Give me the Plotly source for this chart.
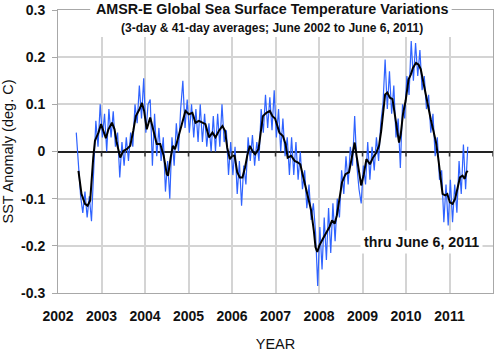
import plotly.graph_objects as go

# ---- data ----
avg41_year = [2002.47, 2002.54, 2002.62, 2002.68, 2002.74, 2002.77, 2002.81, 2002.85, 2002.93, 2002.99,
              2003.04, 2003.10, 2003.16, 2003.24, 2003.30, 2003.35, 2003.43, 2003.50, 2003.58, 2003.66,
              2003.73, 2003.79, 2003.87, 2003.93, 2003.98, 2004.04, 2004.12, 2004.20, 2004.27, 2004.35,
              2004.43, 2004.50, 2004.53, 2004.59, 2004.64, 2004.69, 2004.74, 2004.82, 2004.87, 2004.93,
              2005.01, 2005.09, 2005.16, 2005.24, 2005.32, 2005.39, 2005.47, 2005.55, 2005.62, 2005.70,
              2005.78, 2005.84, 2005.89, 2005.95, 2006.01, 2006.06, 2006.12, 2006.18, 2006.24, 2006.30,
              2006.35, 2006.41, 2006.47, 2006.53, 2006.61, 2006.66, 2006.71, 2006.79, 2006.87, 2006.93,
              2006.99, 2007.09, 2007.17, 2007.23, 2007.28, 2007.36, 2007.44, 2007.51, 2007.57, 2007.63,
              2007.70, 2007.77, 2007.82, 2007.88, 2007.92, 2007.96, 2008.01, 2008.09, 2008.17, 2008.24,
              2008.30, 2008.36, 2008.41, 2008.47, 2008.53, 2008.61, 2008.69, 2008.74, 2008.82, 2008.87,
              2008.94, 2008.97, 2009.03, 2009.09, 2009.17, 2009.24, 2009.32, 2009.38, 2009.43, 2009.46,
              2009.52, 2009.57, 2009.63, 2009.69, 2009.75, 2009.80, 2009.84, 2009.88, 2009.93, 2009.99,
              2010.06, 2010.11, 2010.16, 2010.23, 2010.29, 2010.34, 2010.39, 2010.46, 2010.52, 2010.57,
              2010.63, 2010.69, 2010.74, 2010.79, 2010.84, 2010.90, 2010.95, 2011.01, 2011.07, 2011.13,
              2011.18, 2011.24, 2011.30, 2011.35, 2011.39, 2011.42]
avg41_sst = [-0.041, -0.090, -0.111, -0.115, -0.104, -0.062, -0.013, 0.023, 0.040, 0.058,
             0.044, 0.028, 0.047, 0.061, 0.047, 0.019, -0.013, 0.001, 0.005, 0.012,
             0.044, 0.075, 0.089, 0.103, 0.086, 0.047, 0.072, 0.044, 0.016, 0.016,
             -0.009, -0.048, -0.051, -0.013, 0.012, 0.005, 0.023, 0.051, 0.065, 0.086,
             0.079, 0.082, 0.061, 0.065, 0.061, 0.058, 0.030, 0.040, 0.030, 0.044,
             0.054, 0.044, 0.008, -0.016, -0.009, -0.009, -0.044, -0.055, -0.055, -0.034,
             -0.009, 0.012, 0.001, -0.006, 0.005, 0.044, 0.075, 0.082, 0.086, 0.075,
             0.070, 0.040, 0.033, 0.016, -0.013, -0.009, -0.020, -0.023, -0.027, -0.051,
             -0.079, -0.104, -0.125, -0.167, -0.203, -0.213, -0.199, -0.185, -0.171, -0.160,
             -0.146, -0.153, -0.136, -0.097, -0.065, -0.048, -0.044, -0.020, 0.019, -0.013,
             -0.055, -0.072, -0.048, -0.016, -0.027, -0.013, -0.002, 0.012, 0.044, 0.072,
             0.121, 0.125, 0.114, 0.111, 0.072, 0.037, 0.019, 0.037, 0.079, 0.107,
             0.153, 0.163, 0.177, 0.188, 0.184, 0.174, 0.149, 0.118, 0.089, 0.068,
             0.044, 0.019, -0.013, -0.048, -0.090, -0.093, -0.090, -0.108, -0.111, -0.100,
             -0.079, -0.055, -0.051, -0.058, -0.044, -0.041]

# 3-day averages, one value every 0.05 yr starting 2002.42
day3_start = 2002.42
day3_step = 0.05
day3_sst = [0.040, -0.030, -0.095, -0.130, -0.085, -0.140, -0.095, -0.148, -0.020, 0.065,
            0.010, 0.100, 0.030, 0.080, 0.000, 0.090, 0.030, 0.085, 0.010, 0.040,
            -0.055, 0.020, -0.030, 0.030, -0.020, 0.040, 0.010, 0.100, 0.060, 0.140,
            0.070, 0.155, 0.040, 0.100, 0.110, -0.030, 0.080, -0.010, 0.050, -0.020,
            0.030, -0.085, -0.020, -0.100, 0.030, -0.030, 0.060, 0.000, 0.090, 0.150,
            0.050, 0.110, 0.040, 0.100, 0.030, 0.090, 0.020, 0.100, 0.020, 0.080,
            0.010, 0.060, 0.000, 0.075, 0.000, 0.080, 0.010, 0.100, 0.020, 0.045,
            -0.050, 0.020, -0.050, 0.010, -0.090, -0.020, -0.115, -0.030, -0.070, 0.030,
            -0.020, 0.035, -0.030, 0.020, -0.020, 0.090, 0.040, 0.120, 0.050, 0.115,
            0.045, 0.130, 0.030, 0.090, 0.000, 0.070, -0.010, 0.030, -0.050, 0.030,
            -0.050, 0.020, -0.060, 0.000, -0.080, -0.040, -0.120, -0.070, -0.145, -0.110,
            -0.170, -0.285, -0.160, -0.250, -0.140, -0.230, -0.120, -0.215, -0.110, -0.190,
            -0.100, -0.140, -0.040, -0.090, -0.010, -0.070, 0.010, -0.030, 0.075, -0.030,
            -0.080, -0.110, -0.030, -0.070, 0.020, -0.060, 0.010, -0.040, 0.030, -0.020,
            0.060, 0.100, 0.195, 0.090, 0.170, 0.080, 0.140, 0.030, 0.070, -0.035,
            0.100, 0.070, 0.160, 0.120, 0.234, 0.150, 0.230, 0.160, 0.215, 0.130,
            0.160, 0.090, 0.120, 0.040, 0.080, -0.010, 0.030, -0.060, -0.040, -0.150,
            -0.070, -0.157, -0.060, -0.150, -0.070, -0.130, -0.020, -0.090, 0.015, -0.080,
            0.010]
day3_year = [day3_start + day3_step * i for i in range(len(day3_sst))]

x_tick_years = [2002, 2003, 2004, 2005, 2006, 2007, 2008, 2009, 2010, 2011]
x_tick_text = ["2002", "2003", "2004", "2005", "2006", "2007", "2008", "2009", "2010", "2011"]
zero_tick_years = [2003, 2004, 2005, 2006, 2007, 2008, 2009, 2010, 2011, 2012]
y_tick_vals = [0.3, 0.2, 0.1, 0.0, -0.1, -0.2, -0.3]
y_tick_text = ["0.3", "0.2", "0.1", "0", "-0.1", "-0.2", "-0.3"]

title_text = "AMSR-E Global Sea Surface Temperature Variations"
subtitle_text = "(3-day & 41-day averages; June 2002 to June 6, 2011)"
note_text = "thru June 6, 2011"

FONT = "Arial, 'Liberation Sans', sans-serif"

fig = go.Figure()
fig.add_trace(go.Scatter(x=day3_year, y=day3_sst, mode="lines",
                         line=dict(color="#2f63ff", width=1.2), showlegend=False))
fig.add_trace(go.Scatter(x=avg41_year, y=avg41_sst, mode="lines",
                         line=dict(color="black", width=2), showlegend=False))

shapes = []
# small tick marks hanging from the zero line
for yr in zero_tick_years:
    shapes.append(dict(type="line", xref="x", yref="y", ysizemode="pixel", yanchor=0,
                       x0=yr, x1=yr, y0=0, y1=-5, line=dict(color="#333", width=1.5)))
# white box behind the titles
shapes.append(dict(type="rect", xref="paper", yref="paper", x0=0.074, x1=0.905, y0=0.905, y1=1.05,
                   fillcolor="white", line=dict(width=0), layer="above"))
fig.update_layout(shapes=shapes)

fig.add_annotation(text="<b>" + title_text + "</b>", xref="paper", yref="paper",
                   x=0.493, y=1.003, yanchor="middle", xanchor="center", showarrow=False,
                   font=dict(family=FONT, size=14.3, color="#111"))
fig.add_annotation(text="<b>" + subtitle_text + "</b>", xref="paper", yref="paper",
                   x=0.493, y=0.938, yanchor="middle", xanchor="center", showarrow=False,
                   font=dict(family=FONT, size=12, color="#111"))
fig.add_annotation(text="<b>" + note_text + "</b>", xref="paper", yref="paper",
                   x=0.835, y=0.18, xanchor="center", yanchor="middle", showarrow=False,
                   bgcolor="white", borderpad=3,
                   font=dict(family=FONT, size=14.2, color="#111"))

fig.update_layout(
    width=500, height=363,
    margin=dict(l=58, r=7, t=10, b=70, autoexpand=False),
    paper_bgcolor="white", plot_bgcolor="white",
    showlegend=False,
    font=dict(family=FONT, color="#111"),
    xaxis=dict(range=[2002, 2012], tickvals=x_tick_years, ticktext=["<b>%s</b>" % t for t in x_tick_text],
               showgrid=True, gridcolor="#d4d4d4", gridwidth=1.5, automargin=False,
               showline=True, mirror=True, linecolor="#a8a8a8", linewidth=1,
               ticks="", ticklabelstandoff=10, zeroline=False,
               tickfont=dict(family=FONT, size=14, color="#111"),
               title=dict(text="YEAR", font=dict(family=FONT, size=14.5, color="#111"), standoff=16)),
    yaxis=dict(range=[-0.3, 0.3], tickvals=y_tick_vals, ticktext=["<b>%s</b>" % t for t in y_tick_text],
               showgrid=True, gridcolor="#d4d4d4", gridwidth=1.5, automargin=False,
               showline=True, mirror=True, linecolor="#a8a8a8", linewidth=1,
               ticks="outside", ticklen=5, tickcolor="#a8a8a8", ticklabelstandoff=4,
               zeroline=True, zerolinecolor="#222", zerolinewidth=2,
               tickfont=dict(family=FONT, size=14, color="#111"),
               title=dict(text="SST Anomaly (deg. C)", font=dict(family=FONT, size=14.5, color="#111"), standoff=10)),
)

fig.write_html("out.html", config={"displayModeBar": False},
               post_script="document.body.style.margin='0';document.body.style.padding='0';")
